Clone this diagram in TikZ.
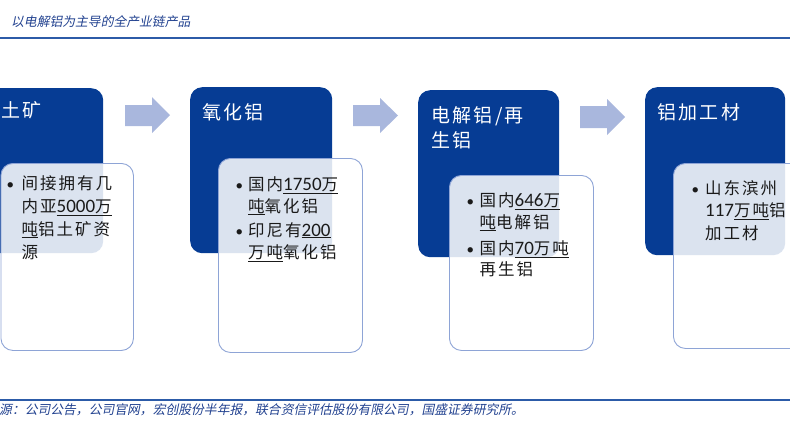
\documentclass[tikz,border=0pt]{standalone}
\usepackage{fontspec}
\setmainfont{Noto Sans CJK SC}
\newfontfamily\numf{Carlito}
\newfontfamily\cjkbody[LetterSpace=12]{Noto Sans CJK SC}
\newfontfamily\slantf[FakeSlant=0.2]{Noto Sans CJK SC}
\newcommand\nb[1]{{\numf\fontsize{19}{22}\selectfont #1}}
\definecolor{dkblue}{HTML}{063C94}
\definecolor{arrowc}{HTML}{A9B7DD}
\definecolor{lbord}{HTML}{8EA4D6}
\definecolor{ttl}{HTML}{21418F}
\definecolor{rulec}{HTML}{2C5BA8}
\definecolor{bodytxt}{HTML}{1A1A1A}
\tikzset{
  headbox/.style={fill=dkblue, rounded corners=12pt, inner sep=0pt, anchor=north west},
  bodybox/.style={fill=white, fill opacity=0.86, draw=lbord, draw opacity=1, line width=0.9pt, rounded corners=12pt, inner sep=0pt, anchor=north west},
  htext/.style={text=white, font=\cjkbody\fontsize{19}{24}\selectfont, anchor=base west, inner sep=0pt},
  btext/.style={text=bodytxt, font=\cjkbody\fontsize{16.5}{22}\selectfont, anchor=base west, inner sep=0pt},
  bul/.style={text=bodytxt, font=\numf\fontsize{15}{18}\selectfont, anchor=base west, inner sep=0pt},
  blockarrow/.style={fill=arrowc},
  rulel/.style={draw=rulec, line width=2pt},
  caption/.style={text=ttl, anchor=west, inner sep=0pt}
}
\begin{document}
\begin{tikzpicture}[x=1pt,y=-1pt]
\useasboundingbox (0,0) rectangle (790,432);
\clip (0,0) rectangle (790,432);
% title and rules
\node[caption, font=\slantf\fontsize{12.8}{14}\selectfont] (title) at (11,22) {以电解铝为主导的全产业链产品};
\coordinate (r1a) at (0,37.5); \coordinate (r1b) at (790,37.5);
\draw[rulel] (r1a) -- (r1b);
\coordinate (r2a) at (0,400); \coordinate (r2b) at (790,400);
\draw[rulel, line width=1.8pt] (r2a) -- (r2b);
\node[caption, font=\slantf\fontsize{12.8}{14}\selectfont] (source) at (-1,410) {源：公司公告，公司官网，宏创股份半年报，联合资信评估股份有限公司，国盛证券研究所。};

% arrows
\fill[blockarrow] (125,105) -- (152,105) -- (152,97) -- (170,115) -- (152,133) -- (152,126) -- (125,126) -- cycle;
\fill[blockarrow] (353,105) -- (380,105) -- (380,98) -- (398,115.5) -- (380,133) -- (380,126) -- (353,126) -- cycle;
\fill[blockarrow] (580,106) -- (607,106) -- (607,99) -- (625,117) -- (607,135) -- (607,128) -- (580,128) -- cycle;

% box 1
\node[headbox, minimum width=143pt, minimum height=165pt] (h1) at (-40,88) {};
\node[htext] (h1t) at (-20,117) {铝土矿};
\node[bodybox, minimum width=132.5pt, minimum height=187pt] (b1) at (0.5,163) {};
\node[bul] (b1u) at (6.5,189) {•};
\node[btext] (b1l1) at (21.5,189) {间接拥有几};
\node[btext] (b1l2) at (21.5,212) {内亚\underline{\nb{5000}万}};
\node[btext] (b1l3) at (21.5,235) {\underline{吨}铝土矿资};
\node[btext] (b1l4) at (21.5,258) {源};

% box 2
\node[headbox, minimum width=142pt, minimum height=166pt] (h2) at (190,87) {};
\node[htext] (h2t) at (202,119) {氧化铝};
\node[bodybox, minimum width=144pt, minimum height=194pt] (b2) at (218,158) {};
\node[bul] (b2u1) at (235.5,190) {•};
\node[btext] (b2l1) at (248,190) {国内\underline{\nb{1750}万}};
\node[btext] (b2l2) at (248,212) {\underline{吨}氧化铝};
\node[bul] (b2u2) at (235.5,236) {•};
\node[btext] (b2l3) at (248,236) {印尼有\underline{\nb{200}}};
\node[btext] (b2l4) at (248,258) {\underline{万吨}氧化铝};

% box 3
\node[headbox, minimum width=141pt, minimum height=167pt] (h3) at (418,90) {};
\node[htext] (h3t1) at (431,122) {电解铝/再};
\node[htext] (h3t2) at (431,147) {生铝};
\node[bodybox, minimum width=144pt, minimum height=175pt] (b3) at (449,175) {};
\node[bul] (b3u1) at (466.5,206) {•};
\node[btext] (b3l1) at (479.5,206) {国内\underline{\nb{646}万}};
\node[btext] (b3l2) at (479.5,228) {\underline{吨}电解铝};
\node[bul] (b3u2) at (466.5,254) {•};
\node[btext] (b3l3) at (479.5,254) {国内\underline{\nb{70}万吨}};
\node[btext] (b3l4) at (479.5,275) {再生铝};

% box 4
\node[headbox, minimum width=140pt, minimum height=168pt] (h4) at (645,87) {};
\node[htext] (h4t) at (657,119) {铝加工材};
\node[bodybox, minimum width=157pt, minimum height=185pt] (b4) at (673,163) {};
\node[bul] (b4u) at (691.5,194) {•};
\node[btext] (b4l1) at (705,194) {山东滨州};
\node[btext] (b4l2) at (705,216.5) {\nb{117}\underline{万吨}铝};
\node[btext] (b4l3) at (705,239) {加工材};
\end{tikzpicture}
\end{document}
